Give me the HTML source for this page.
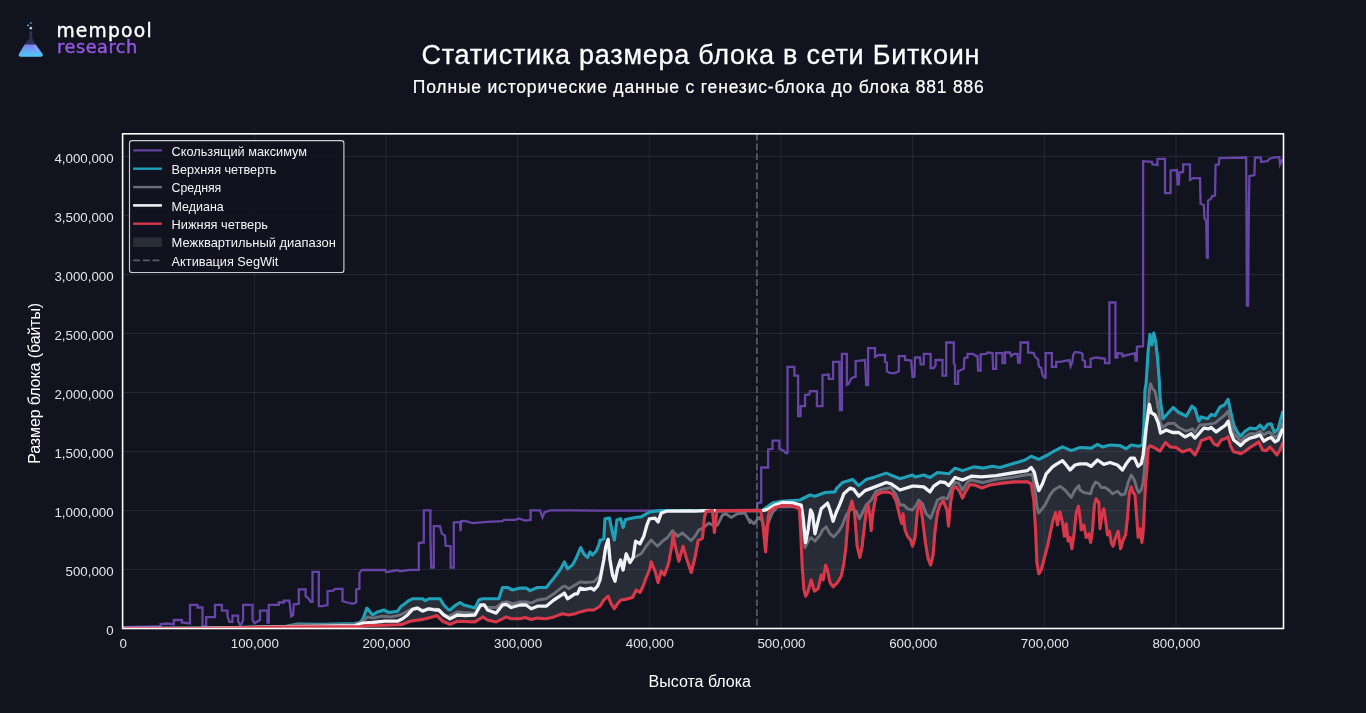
<!DOCTYPE html>
<html lang="ru"><head><meta charset="utf-8"><title>Статистика размера блока в сети Биткоин</title>
<style>
html,body{margin:0;padding:0;background:#11131f;}
body{width:1366px;height:713px;overflow:hidden;font-family:"Liberation Sans","DejaVu Sans",sans-serif;}
svg{display:block;will-change:transform;}
.t{font-family:"Liberation Sans","DejaVu Sans",sans-serif;}
.tick{font-size:13.3px;fill:#e4e4e7;}
.leg{font-size:13.3px;fill:#f4f4f5;}
</style></head><body>
<svg width="1366" height="713" viewBox="0 0 1366 713">
<defs>
<linearGradient id="liq" x1="0" y1="0" x2="0" y2="1"><stop offset="0" stop-color="#7f7ff2"/><stop offset="1" stop-color="#4ccbf7"/></linearGradient>
<clipPath id="plot"><rect x="122.6" y="133.8" width="1160.9" height="494.7"/></clipPath>
</defs>
<rect width="1366" height="713" fill="#11131f"/>
<g id="logo">
<path d="M29.3 31.2 L29.3 38.3 L24.4 44.8 L36 44.8 L32.3 38.3 L32.3 31.2 Z" fill="#343960" opacity="0.8"/>
<path d="M24.6 44.5 L35.8 44.5 L42.3 53.6 Q43.9 56.7 40.6 56.7 L20.8 56.7 Q17.6 56.7 19.2 53.6 Z" fill="url(#liq)"/>
<path d="M33.2 45 L35.2 45 L39.6 52.5 L38 52.5 Z" fill="#a6b4ff" opacity="0.55"/>
<circle cx="30.8" cy="28.2" r="1.35" fill="#a9d4f5"/>
<circle cx="30.8" cy="23" r="1.05" fill="#3f8fc9"/>
<circle cx="28" cy="25.4" r="0.8" fill="#c9c4ea"/>
<text x="56.4" y="36.8" font-family="'DejaVu Sans','Liberation Sans',sans-serif" font-size="18.7" fill="#ffffff" stroke="#ffffff" stroke-width="0.45" textLength="95.2" lengthAdjust="spacing">mempool</text>
<text x="57.1" y="52.5" font-family="'DejaVu Sans','Liberation Sans',sans-serif" font-size="17.7" fill="#9459e4" stroke="#9459e4" stroke-width="0.4" textLength="80.2" lengthAdjust="spacing">research</text>
</g>
<text class="t" x="421.5" y="64.3" font-size="27" fill="#ffffff" stroke="#ffffff" stroke-width="0.3" textLength="558" lengthAdjust="spacing">Статистика размера блока в сети Биткоин</text>
<text class="t" x="412.8" y="93" font-size="17.5" fill="#ffffff" stroke="#ffffff" stroke-width="0.2" textLength="571" lengthAdjust="spacing">Полные исторические данные с генезис-блока до блока 881 886</text>
<g stroke="#ffffff" stroke-opacity="0.085" stroke-width="1">
<line x1="254.3" y1="133.8" x2="254.3" y2="628.5"/><line x1="386.0" y1="133.8" x2="386.0" y2="628.5"/><line x1="517.6" y1="133.8" x2="517.6" y2="628.5"/><line x1="649.3" y1="133.8" x2="649.3" y2="628.5"/><line x1="781.0" y1="133.8" x2="781.0" y2="628.5"/><line x1="912.7" y1="133.8" x2="912.7" y2="628.5"/><line x1="1044.4" y1="133.8" x2="1044.4" y2="628.5"/><line x1="1176.0" y1="133.8" x2="1176.0" y2="628.5"/><line x1="122.6" y1="569.5" x2="1283.5" y2="569.5"/><line x1="122.6" y1="510.5" x2="1283.5" y2="510.5"/><line x1="122.6" y1="451.5" x2="1283.5" y2="451.5"/><line x1="122.6" y1="392.5" x2="1283.5" y2="392.5"/><line x1="122.6" y1="333.5" x2="1283.5" y2="333.5"/><line x1="122.6" y1="274.5" x2="1283.5" y2="274.5"/><line x1="122.6" y1="215.5" x2="1283.5" y2="215.5"/><line x1="122.6" y1="156.5" x2="1283.5" y2="156.5"/></g>
<g clip-path="url(#plot)" fill="none" stroke-linejoin="round" stroke-linecap="butt">
<path d="M122.6 628.5 L200.0 628.2 L285.0 626.5 L297.5 624.0 L322.5 624.4 L355.0 623.5 L360.0 622.5 L363.1 618.8 L366.9 608.1 L372.5 615.0 L377.5 611.9 L383.8 610.0 L388.8 612.5 L397.5 611.2 L401.2 606.2 L403.8 604.4 L408.8 600.6 L412.5 598.8 L422.5 598.8 L425.0 600.6 L428.8 598.8 L440.0 598.8 L443.8 605.0 L448.8 610.0 L450.0 610.0 L455.0 605.6 L460.0 602.5 L463.8 605.0 L468.8 606.2 L475.0 608.1 L478.8 600.0 L482.5 598.8 L498.8 598.8 L502.5 587.5 L507.5 587.5 L512.5 590.0 L520.0 588.1 L526.2 588.1 L530.0 590.6 L537.5 587.5 L546.2 587.5 L553.8 578.1 L560.0 570.0 L564.4 561.9 L567.5 568.8 L572.5 565.0 L576.2 558.1 L580.6 547.5 L583.8 553.8 L587.5 557.5 L590.0 551.9 L592.5 555.0 L596.2 551.2 L598.8 545.0 L600.0 540.0 L600.0 540.6 L603.8 538.8 L605.0 518.8 L609.4 518.1 L611.9 530.0 L614.4 540.0 L616.9 520.0 L620.6 518.8 L623.1 527.5 L625.6 519.4 L635.0 517.5 L641.2 516.9 L646.2 513.8 L650.0 511.9 L660.0 510.6 L762.5 510.6 L762.5 510.4 L766.2 507.5 L772.5 503.1 L781.2 501.2 L800.0 500.0 L810.0 495.0 L815.0 496.2 L825.0 492.5 L835.0 491.9 L836.2 488.9 L842.5 482.5 L852.5 479.4 L858.8 485.6 L866.2 479.4 L875.0 476.9 L886.2 473.1 L893.8 476.2 L900.0 478.8 L912.5 475.0 L915.0 476.9 L923.8 475.0 L930.0 477.5 L937.5 472.5 L948.8 473.8 L955.0 468.1 L962.5 470.6 L973.8 466.9 L983.8 468.1 L992.5 466.2 L1000.0 467.5 L1015.0 463.1 L1025.0 460.0 L1031.2 456.2 L1038.8 459.4 L1047.5 455.0 L1055.0 450.6 L1062.5 446.9 L1071.2 450.6 L1080.0 447.5 L1091.2 448.1 L1097.5 444.4 L1102.5 446.9 L1110.0 445.0 L1120.0 445.6 L1126.2 448.8 L1131.2 445.0 L1138.8 446.2 L1142.5 445.0 L1143.8 427.5 L1145.0 390.0 L1146.2 382.5 L1148.1 351.2 L1150.0 334.4 L1151.9 345.0 L1153.8 333.1 L1155.6 341.2 L1157.5 357.5 L1159.4 382.5 L1159.6 390.0 L1160.6 402.5 L1163.1 418.8 L1167.5 413.8 L1173.1 407.5 L1178.8 412.5 L1186.2 416.2 L1191.9 406.2 L1195.0 408.8 L1198.8 421.2 L1201.2 416.9 L1207.5 418.8 L1211.2 414.4 L1215.0 415.6 L1220.0 406.9 L1224.4 405.0 L1228.1 399.4 L1230.6 411.2 L1233.8 425.0 L1237.5 432.5 L1240.6 436.2 L1245.0 431.2 L1250.0 428.1 L1256.2 428.8 L1260.0 425.0 L1263.8 429.4 L1267.5 424.4 L1271.2 423.8 L1274.4 432.5 L1278.1 428.8 L1281.2 417.5 L1282.9 411.2 L1282.9 442.5 L1280.0 450.0 L1276.9 455.0 L1273.8 451.2 L1270.0 446.9 L1266.2 450.6 L1262.5 450.0 L1258.8 441.9 L1255.0 444.4 L1250.0 447.5 L1245.0 451.2 L1240.6 453.8 L1237.5 452.5 L1233.8 451.9 L1230.6 446.2 L1228.1 436.9 L1225.0 438.8 L1221.2 440.0 L1217.5 445.6 L1213.8 443.8 L1210.0 437.5 L1206.2 438.8 L1201.2 440.6 L1198.8 447.5 L1195.0 455.0 L1190.0 449.4 L1182.5 451.9 L1176.2 447.5 L1170.0 446.9 L1165.6 442.5 L1160.0 451.2 L1155.0 448.1 L1150.0 445.6 L1148.1 448.8 L1146.9 470.0 L1146.9 470.0 L1145.6 482.5 L1144.4 507.5 L1143.1 532.5 L1141.9 542.5 L1140.0 528.8 L1138.1 537.5 L1136.9 520.0 L1135.0 495.0 L1133.1 492.5 L1131.2 486.9 L1129.4 492.5 L1127.5 517.5 L1125.6 535.0 L1123.1 540.0 L1120.6 548.8 L1118.1 531.2 L1115.6 537.5 L1113.1 546.2 L1111.2 542.5 L1109.4 531.2 L1107.5 535.0 L1105.6 520.0 L1103.8 508.8 L1101.9 515.0 L1100.0 528.8 L1098.8 502.5 L1096.2 498.8 L1094.4 505.0 L1092.5 530.0 L1090.6 542.5 L1088.8 533.8 L1086.2 537.5 L1083.8 525.0 L1081.2 530.0 L1080.6 522.5 L1078.5 506.2 L1076.2 512.5 L1074.4 531.2 L1071.9 548.8 L1070.0 537.5 L1068.1 541.2 L1066.2 523.8 L1064.4 536.2 L1062.5 522.5 L1060.0 511.9 L1057.5 525.0 L1055.6 512.5 L1053.1 520.0 L1050.6 531.2 L1047.5 546.2 L1043.8 560.0 L1041.2 570.0 L1038.8 573.8 L1036.9 562.5 L1035.6 531.2 L1033.8 500.0 L1033.8 500.0 L1033.1 496.2 L1031.2 483.8 L1027.5 481.9 L1015.0 481.9 L1002.5 483.1 L990.0 485.0 L981.9 488.1 L976.2 485.6 L970.0 484.4 L965.0 492.5 L962.5 498.1 L959.4 491.2 L956.2 486.9 L953.1 488.8 L951.9 495.0 L950.6 502.5 L948.5 526.2 L946.9 510.0 L943.1 500.6 L940.0 505.0 L937.5 512.5 L935.0 531.2 L933.1 555.0 L930.6 565.0 L928.1 558.8 L925.6 543.8 L922.5 518.8 L920.0 502.5 L917.5 510.0 L915.0 537.5 L912.5 546.2 L910.6 540.0 L907.5 536.2 L905.0 530.0 L903.1 513.8 L901.9 523.8 L900.0 517.5 L896.2 501.2 L892.5 493.8 L887.5 491.9 L881.2 492.5 L876.2 495.0 L873.1 511.2 L871.2 530.6 L870.0 517.5 L868.1 504.4 L866.2 511.2 L862.5 542.5 L862.5 545.0 L859.8 557.5 L856.9 545.0 L856.9 542.5 L854.4 511.2 L851.9 501.2 L848.8 511.2 L846.2 542.5 L846.2 545.0 L843.8 563.8 L841.2 576.2 L837.5 582.5 L833.1 586.9 L830.0 582.5 L827.5 570.0 L825.6 565.0 L823.1 580.0 L821.2 575.0 L818.1 588.8 L814.4 591.2 L811.2 580.0 L808.1 591.2 L805.6 596.2 L803.8 588.8 L802.2 566.2 L800.6 530.0 L799.4 508.8 L792.5 506.0 L782.5 505.6 L775.0 507.5 L769.4 511.2 L768.1 517.5 L765.6 551.9 L762.5 521.2 L760.6 510.4 L716.9 510.6 L714.4 532.5 L712.5 510.6 L706.2 511.2 L704.4 517.5 L702.5 538.1 L698.1 540.6 L695.0 557.5 L691.2 572.5 L686.2 557.5 L683.1 546.2 L678.8 561.2 L675.0 545.0 L673.1 533.8 L671.9 545.0 L668.8 562.5 L664.4 575.0 L661.2 571.2 L658.1 582.5 L655.0 571.2 L651.2 561.9 L649.4 570.0 L646.2 577.5 L643.1 586.2 L640.0 592.5 L636.2 590.0 L632.5 597.5 L625.0 599.4 L620.8 600.0 L617.5 603.8 L614.4 608.8 L611.2 603.8 L608.1 596.2 L603.8 600.0 L600.0 606.2 L593.8 610.0 L587.5 610.0 L580.0 611.9 L575.0 613.8 L568.8 615.0 L562.5 613.8 L553.8 616.9 L546.2 618.8 L537.5 618.1 L531.2 619.4 L525.0 617.5 L520.0 618.8 L511.2 618.8 L506.2 616.9 L502.5 618.8 L496.2 621.9 L487.5 620.0 L483.1 616.9 L480.0 618.8 L475.0 621.9 L457.5 621.2 L450.0 624.4 L442.5 621.2 L436.9 615.6 L435.0 616.2 L422.5 619.4 L410.0 621.2 L402.5 624.4 L397.5 624.8 L385.0 625.2 L366.2 625.6 L360.0 626.5 L285.0 627.0 L200.0 628.5 L122.6 628.6 Z" fill="#6c757d" fill-opacity="0.26" stroke="none"/>
<path d="M122.5 627.1 L145.0 626.6 L160.6 626.2 L160.6 624.0 L167.5 623.5 L173.8 624.5 L173.8 620.0 L181.9 620.0 L181.9 622.5 L190.0 623.5 L190.0 604.8 L197.5 604.8 L197.5 607.5 L202.5 607.5 L202.5 626.2 L206.2 626.2 L206.2 617.2 L215.0 617.2 L215.0 604.8 L221.9 604.8 L221.9 610.6 L227.5 610.6 L227.5 616.5 L229.4 621.9 L232.5 621.9 L232.5 615.6 L238.1 615.6 L238.1 621.2 L240.6 626.0 L243.1 620.0 L243.1 604.8 L252.5 604.8 L252.5 620.0 L254.4 623.1 L260.0 620.0 L260.0 610.6 L267.5 610.6 L267.5 622.5 L268.8 622.5 L268.8 604.8 L278.8 604.8 L278.8 602.5 L283.8 602.5 L283.8 600.6 L285.0 600.6 L285.0 600.6 L289.4 600.6 L291.2 616.2 L293.1 615.0 L293.8 604.4 L298.8 603.8 L298.8 589.4 L305.6 589.4 L305.6 596.2 L308.8 598.8 L310.6 601.9 L312.5 601.9 L312.5 571.9 L318.8 571.9 L318.8 606.2 L322.5 606.2 L327.5 605.0 L327.5 591.2 L333.1 590.6 L335.0 588.8 L342.5 588.8 L342.5 601.2 L347.5 602.5 L352.5 603.8 L356.2 602.5 L356.2 589.4 L359.4 588.8 L359.4 573.1 L361.9 570.0 L385.0 569.8 L386.2 572.2 L397.5 570.0 L400.0 571.2 L410.0 569.8 L418.8 569.8 L418.8 568.8 L418.8 543.1 L423.8 542.5 L423.8 510.4 L430.4 510.4 L430.4 536.2 L431.2 567.5 L433.8 567.5 L433.8 526.2 L440.0 526.2 L441.9 533.8 L445.0 535.6 L445.6 545.6 L450.6 546.2 L450.6 567.5 L453.8 567.5 L453.8 522.5 L460.0 521.9 L460.6 531.2 L461.2 521.2 L465.0 521.0 L472.5 523.1 L487.5 521.9 L502.5 521.2 L503.8 519.8 L515.0 519.8 L518.8 518.5 L525.0 520.6 L530.6 520.0 L530.6 510.4 L540.0 510.4 L542.5 517.5 L544.4 512.5 L550.0 510.4 L570.8 510.4 L600.0 510.6 L756.2 510.6 L756.9 510.4 L757.5 503.1 L761.2 502.5 L761.2 488.9 L761.2 467.5 L768.1 467.5 L768.1 449.4 L772.5 448.8 L772.5 440.6 L779.4 440.6 L779.4 448.8 L783.8 450.6 L785.6 453.1 L787.5 453.1 L787.5 366.9 L794.4 366.9 L794.4 375.6 L798.1 375.6 L798.1 416.2 L800.6 416.2 L800.6 406.2 L805.0 406.2 L805.0 395.0 L809.4 394.4 L810.0 391.2 L816.9 391.2 L816.9 406.2 L822.5 406.2 L822.5 375.0 L828.8 374.4 L828.8 378.8 L833.1 378.8 L833.1 361.9 L839.4 361.9 L840.0 410.0 L841.9 410.0 L841.9 353.8 L846.9 353.8 L846.9 385.0 L848.8 383.8 L850.6 379.4 L852.5 377.5 L855.6 376.9 L855.6 361.2 L860.0 360.6 L865.0 360.0 L866.2 385.0 L868.1 385.0 L868.1 348.1 L875.0 348.1 L875.0 356.9 L878.8 355.0 L885.0 355.0 L885.0 361.9 L886.9 362.5 L886.9 371.2 L890.0 373.1 L895.0 373.1 L898.8 371.2 L898.8 356.2 L905.0 356.2 L905.0 360.0 L911.2 360.6 L912.5 376.9 L914.4 376.9 L915.0 357.5 L920.0 357.5 L920.6 364.4 L923.8 364.4 L923.8 353.8 L930.6 353.8 L930.6 368.1 L933.8 368.1 L935.6 365.0 L935.6 360.0 L942.5 360.0 L942.5 375.6 L946.2 375.6 L946.2 342.5 L953.8 342.5 L953.8 363.8 L955.0 365.0 L955.0 383.8 L958.1 383.8 L958.1 371.2 L963.8 368.8 L964.4 358.1 L967.5 357.5 L967.5 353.8 L973.1 353.8 L975.6 355.6 L977.5 356.2 L978.1 370.6 L980.6 370.6 L980.6 354.4 L986.2 353.8 L987.5 352.5 L992.5 353.1 L993.1 368.8 L996.2 368.8 L996.2 353.1 L1002.5 353.1 L1002.5 363.1 L1005.0 363.1 L1005.0 352.5 L1010.0 352.5 L1011.2 356.2 L1013.8 353.8 L1017.5 353.8 L1018.1 362.5 L1020.0 362.5 L1020.6 342.5 L1028.1 342.5 L1028.1 352.5 L1033.8 353.1 L1035.0 356.9 L1038.1 359.4 L1038.8 366.2 L1041.2 368.1 L1042.5 375.0 L1044.4 377.5 L1045.6 377.5 L1045.6 353.1 L1051.9 353.1 L1051.9 366.9 L1056.2 366.9 L1056.2 361.9 L1060.0 361.9 L1069.4 360.0 L1070.6 366.2 L1072.5 361.2 L1073.1 355.0 L1075.0 351.9 L1080.0 352.5 L1082.5 353.8 L1082.5 360.0 L1085.0 361.2 L1085.0 366.9 L1090.6 366.9 L1090.6 358.8 L1096.2 357.5 L1105.0 358.8 L1105.0 363.1 L1109.4 363.1 L1109.4 302.5 L1115.4 302.5 L1115.4 357.5 L1117.5 357.5 L1117.5 353.1 L1122.5 353.8 L1122.5 356.2 L1135.0 353.1 L1135.6 360.6 L1136.9 360.6 L1136.9 346.9 L1143.1 346.2 L1143.1 161.2 L1151.9 161.9 L1152.5 164.4 L1157.5 165.0 L1157.5 158.8 L1165.0 158.8 L1165.0 193.1 L1170.6 193.1 L1170.6 170.6 L1176.9 170.0 L1177.5 184.4 L1178.8 184.4 L1179.4 172.5 L1183.1 171.9 L1183.1 164.4 L1190.0 164.4 L1190.0 180.0 L1193.1 178.1 L1200.0 178.1 L1200.6 203.8 L1203.8 205.0 L1204.4 218.1 L1206.2 221.2 L1206.9 257.5 L1207.8 257.5 L1207.8 210.0 L1208.1 200.6 L1211.2 198.8 L1211.9 196.2 L1215.0 195.6 L1215.6 165.0 L1218.8 164.4 L1219.4 158.1 L1246.2 157.5 L1246.9 305.6 L1248.1 305.6 L1248.8 212.5 L1249.4 176.2 L1254.4 175.0 L1255.0 157.5 L1260.6 157.5 L1261.2 161.9 L1267.5 161.2 L1269.4 158.8 L1273.8 157.5 L1279.4 157.2 L1280.0 164.4 L1281.2 161.9 L1283.1 158.8" stroke="#6745a6" stroke-width="2.3" stroke-linejoin="miter"/>
<path d="M122.6 628.5 L200.0 628.2 L285.0 626.5 L297.5 624.0 L322.5 624.4 L355.0 623.5 L360.0 622.5 L363.1 618.8 L366.9 608.1 L372.5 615.0 L377.5 611.9 L383.8 610.0 L388.8 612.5 L397.5 611.2 L401.2 606.2 L403.8 604.4 L408.8 600.6 L412.5 598.8 L422.5 598.8 L425.0 600.6 L428.8 598.8 L440.0 598.8 L443.8 605.0 L448.8 610.0 L450.0 610.0 L455.0 605.6 L460.0 602.5 L463.8 605.0 L468.8 606.2 L475.0 608.1 L478.8 600.0 L482.5 598.8 L498.8 598.8 L502.5 587.5 L507.5 587.5 L512.5 590.0 L520.0 588.1 L526.2 588.1 L530.0 590.6 L537.5 587.5 L546.2 587.5 L553.8 578.1 L560.0 570.0 L564.4 561.9 L567.5 568.8 L572.5 565.0 L576.2 558.1 L580.6 547.5 L583.8 553.8 L587.5 557.5 L590.0 551.9 L592.5 555.0 L596.2 551.2 L598.8 545.0 L600.0 540.0 L600.0 540.6 L603.8 538.8 L605.0 518.8 L609.4 518.1 L611.9 530.0 L614.4 540.0 L616.9 520.0 L620.6 518.8 L623.1 527.5 L625.6 519.4 L635.0 517.5 L641.2 516.9 L646.2 513.8 L650.0 511.9 L660.0 510.6 L762.5 510.6 L762.5 510.4 L766.2 507.5 L772.5 503.1 L781.2 501.2 L800.0 500.0 L810.0 495.0 L815.0 496.2 L825.0 492.5 L835.0 491.9 L836.2 488.9 L842.5 482.5 L852.5 479.4 L858.8 485.6 L866.2 479.4 L875.0 476.9 L886.2 473.1 L893.8 476.2 L900.0 478.8 L912.5 475.0 L915.0 476.9 L923.8 475.0 L930.0 477.5 L937.5 472.5 L948.8 473.8 L955.0 468.1 L962.5 470.6 L973.8 466.9 L983.8 468.1 L992.5 466.2 L1000.0 467.5 L1015.0 463.1 L1025.0 460.0 L1031.2 456.2 L1038.8 459.4 L1047.5 455.0 L1055.0 450.6 L1062.5 446.9 L1071.2 450.6 L1080.0 447.5 L1091.2 448.1 L1097.5 444.4 L1102.5 446.9 L1110.0 445.0 L1120.0 445.6 L1126.2 448.8 L1131.2 445.0 L1138.8 446.2 L1142.5 445.0 L1143.8 427.5 L1145.0 390.0 L1146.2 382.5 L1148.1 351.2 L1150.0 334.4 L1151.9 345.0 L1153.8 333.1 L1155.6 341.2 L1157.5 357.5 L1159.4 382.5 L1159.6 390.0 L1160.6 402.5 L1163.1 418.8 L1167.5 413.8 L1173.1 407.5 L1178.8 412.5 L1186.2 416.2 L1191.9 406.2 L1195.0 408.8 L1198.8 421.2 L1201.2 416.9 L1207.5 418.8 L1211.2 414.4 L1215.0 415.6 L1220.0 406.9 L1224.4 405.0 L1228.1 399.4 L1230.6 411.2 L1233.8 425.0 L1237.5 432.5 L1240.6 436.2 L1245.0 431.2 L1250.0 428.1 L1256.2 428.8 L1260.0 425.0 L1263.8 429.4 L1267.5 424.4 L1271.2 423.8 L1274.4 432.5 L1278.1 428.8 L1281.2 417.5 L1282.9 411.2" stroke="#1fa2b8" stroke-width="3.1"/>
<path d="M122.6 628.5 L200.0 628.3 L285.0 626.6 L297.5 624.8 L322.5 625.0 L355.0 624.4 L360.0 623.1 L365.0 619.4 L367.5 616.9 L372.5 618.1 L382.5 616.2 L391.2 616.9 L400.0 615.0 L405.0 612.5 L410.0 609.8 L415.0 608.1 L417.5 607.9 L422.5 610.2 L428.8 608.5 L438.8 609.5 L443.8 614.5 L450.0 617.2 L450.0 615.6 L457.5 611.9 L463.8 612.5 L475.0 613.1 L480.0 606.2 L483.8 605.0 L487.5 607.5 L496.2 607.5 L502.5 602.5 L507.5 601.9 L512.5 603.8 L520.0 601.9 L526.2 601.9 L531.2 603.1 L537.5 600.0 L546.2 598.8 L553.8 593.8 L562.5 586.9 L565.0 586.2 L568.8 588.8 L575.0 585.0 L580.0 581.9 L585.0 582.5 L593.8 581.9 L600.0 575.6 L603.8 560.0 L605.6 547.5 L608.1 540.0 L610.0 560.0 L612.5 575.0 L615.0 580.6 L617.5 568.8 L620.6 560.0 L623.1 570.0 L626.2 553.8 L630.0 562.5 L633.1 558.1 L636.2 556.2 L641.2 553.8 L646.2 546.2 L651.2 540.0 L657.5 546.2 L662.5 541.2 L667.5 537.5 L672.5 530.6 L677.5 536.2 L682.5 533.1 L687.5 537.5 L691.2 540.6 L695.0 536.2 L698.8 530.0 L703.8 527.5 L708.8 523.1 L712.5 525.0 L717.5 525.0 L722.5 515.0 L726.2 513.8 L731.2 517.5 L737.5 513.8 L745.0 513.1 L750.0 522.5 L750.0 520.0 L753.8 523.8 L758.8 517.5 L762.5 521.2 L765.0 532.5 L768.8 521.2 L772.5 512.5 L777.5 506.9 L800.0 506.9 L802.5 523.8 L805.0 547.5 L808.8 540.0 L811.2 537.5 L815.0 541.2 L820.0 535.0 L822.5 530.0 L826.2 526.9 L830.0 533.8 L833.8 536.9 L838.8 531.2 L842.5 525.0 L846.2 515.0 L851.2 508.8 L856.2 511.2 L859.4 518.8 L862.5 512.5 L866.2 505.0 L871.2 500.0 L876.2 491.2 L881.2 489.4 L891.2 487.5 L896.2 495.0 L900.0 505.0 L903.8 505.0 L907.5 508.8 L912.5 510.0 L916.2 505.0 L918.8 500.0 L922.5 503.8 L926.2 513.8 L930.6 518.1 L933.8 510.0 L937.5 500.0 L942.5 497.5 L947.5 498.8 L951.2 488.8 L955.0 482.5 L958.8 483.1 L962.5 490.0 L967.5 481.9 L971.2 480.0 L982.5 482.5 L996.2 479.4 L1015.0 476.9 L1025.0 475.0 L1032.5 474.4 L1035.0 490.0 L1036.9 506.2 L1038.8 513.1 L1045.0 505.0 L1050.0 495.0 L1053.8 490.0 L1060.0 486.2 L1065.0 490.0 L1071.2 497.5 L1075.0 490.0 L1078.8 485.6 L1080.0 490.0 L1083.8 492.5 L1090.6 493.8 L1092.5 487.5 L1095.6 481.9 L1098.8 483.8 L1101.2 487.5 L1105.0 487.5 L1108.8 490.0 L1112.5 493.8 L1117.5 491.2 L1121.2 495.0 L1125.0 493.8 L1128.1 482.5 L1131.2 475.0 L1134.4 480.0 L1136.9 488.8 L1138.8 492.5 L1141.2 490.0 L1143.1 482.5 L1144.4 470.0 L1146.2 427.5 L1148.1 407.5 L1149.4 390.0 L1150.6 383.8 L1152.5 388.8 L1155.0 391.2 L1156.9 400.0 L1157.8 407.5 L1157.8 402.5 L1160.0 421.2 L1162.5 427.5 L1167.5 423.8 L1173.8 423.1 L1178.8 427.5 L1186.2 431.2 L1192.5 428.8 L1195.0 432.5 L1200.0 425.0 L1207.5 424.4 L1215.0 423.1 L1220.0 418.8 L1225.0 415.0 L1228.1 411.2 L1230.6 421.2 L1233.8 433.8 L1237.5 437.5 L1240.6 441.2 L1245.0 436.9 L1250.0 433.8 L1256.2 433.8 L1260.0 431.2 L1263.8 435.0 L1267.5 432.5 L1270.0 432.5 L1274.4 437.5 L1278.1 435.0 L1282.9 422.5" stroke="#6b6f79" stroke-width="2.9"/>
<path d="M122.6 628.5 L200.0 628.4 L285.0 626.8 L355.0 625.6 L362.5 623.1 L372.5 622.5 L385.0 621.2 L397.5 621.2 L402.5 618.8 L407.5 615.0 L412.5 609.4 L417.5 608.1 L422.5 611.2 L428.8 608.8 L435.0 610.0 L438.8 610.0 L443.8 615.0 L450.0 618.8 L457.5 615.0 L465.0 615.6 L475.0 615.0 L480.6 605.0 L484.4 605.0 L487.5 610.0 L496.2 613.1 L502.5 605.0 L506.2 604.4 L511.2 607.5 L520.0 605.0 L526.2 605.0 L531.2 608.8 L537.5 606.2 L546.2 606.2 L553.8 600.0 L562.5 594.4 L564.4 593.1 L567.5 598.8 L575.0 593.8 L577.5 593.8 L580.0 588.1 L585.0 589.4 L591.2 588.1 L593.8 590.0 L597.5 586.2 L600.0 580.0 L603.8 560.0 L605.6 547.5 L608.1 539.4 L610.0 560.0 L612.5 575.0 L615.0 581.2 L617.5 568.8 L620.6 560.0 L623.1 570.0 L626.2 553.8 L630.0 562.5 L633.1 557.5 L635.6 541.2 L640.0 543.8 L643.8 536.2 L646.9 525.0 L649.4 518.8 L655.0 518.1 L658.1 521.9 L661.2 513.1 L666.2 511.2 L690.0 511.0 L695.0 511.2 L703.8 510.6 L763.8 510.4 L767.5 509.4 L775.0 505.0 L782.5 502.5 L792.5 502.8 L801.2 505.0 L803.1 517.5 L805.6 542.5 L808.1 530.0 L810.6 510.0 L812.5 513.8 L815.0 533.8 L818.1 521.2 L821.2 508.8 L827.5 503.1 L830.0 510.0 L833.1 521.2 L836.2 512.5 L840.0 503.8 L843.8 493.8 L850.0 488.1 L853.8 489.4 L858.8 496.2 L865.0 490.6 L875.0 486.9 L886.2 482.5 L891.2 483.8 L900.0 490.0 L912.5 486.2 L915.0 486.2 L923.8 486.9 L930.0 491.9 L933.8 486.2 L940.0 481.9 L945.0 482.5 L948.8 485.6 L955.0 477.5 L962.5 480.0 L971.2 476.2 L981.2 476.9 L996.2 475.6 L1015.0 472.5 L1027.5 470.6 L1031.2 467.5 L1034.4 472.5 L1036.9 483.8 L1038.8 490.6 L1042.5 483.8 L1046.2 473.8 L1052.5 466.9 L1056.2 464.4 L1062.5 460.6 L1066.2 465.0 L1070.0 470.0 L1075.0 465.0 L1080.0 463.8 L1086.2 463.8 L1091.2 466.2 L1097.5 460.0 L1103.8 464.4 L1110.0 462.5 L1117.5 465.0 L1122.5 470.0 L1126.2 463.8 L1130.6 458.1 L1134.4 458.1 L1138.1 466.2 L1141.2 463.8 L1143.1 455.0 L1146.2 427.5 L1149.4 404.4 L1151.2 412.5 L1155.0 415.0 L1158.1 422.5 L1160.6 433.1 L1166.2 430.0 L1172.5 432.5 L1178.8 432.5 L1185.0 436.9 L1191.2 433.8 L1195.0 438.1 L1200.0 432.5 L1203.8 428.1 L1208.8 428.8 L1211.2 427.5 L1216.2 431.9 L1221.2 428.1 L1225.0 425.6 L1228.1 421.2 L1230.6 432.5 L1233.8 440.0 L1237.5 443.1 L1240.6 445.6 L1245.0 441.2 L1250.0 438.1 L1255.0 436.9 L1260.0 435.0 L1263.8 441.2 L1267.5 438.8 L1271.2 437.5 L1275.0 441.9 L1278.1 440.0 L1281.2 432.5 L1282.9 428.8" stroke="#f1f2f5" stroke-width="3.3"/>
<path d="M122.6 628.6 L200.0 628.5 L285.0 627.0 L360.0 626.5 L366.2 625.6 L385.0 625.2 L397.5 624.8 L402.5 624.4 L410.0 621.2 L422.5 619.4 L435.0 616.2 L436.9 615.6 L442.5 621.2 L450.0 624.4 L457.5 621.2 L475.0 621.9 L480.0 618.8 L483.1 616.9 L487.5 620.0 L496.2 621.9 L502.5 618.8 L506.2 616.9 L511.2 618.8 L520.0 618.8 L525.0 617.5 L531.2 619.4 L537.5 618.1 L546.2 618.8 L553.8 616.9 L562.5 613.8 L568.8 615.0 L575.0 613.8 L580.0 611.9 L587.5 610.0 L593.8 610.0 L600.0 606.2 L603.8 600.0 L608.1 596.2 L611.2 603.8 L614.4 608.8 L617.5 603.8 L620.8 600.0 L625.0 599.4 L632.5 597.5 L636.2 590.0 L640.0 592.5 L643.1 586.2 L646.2 577.5 L649.4 570.0 L651.2 561.9 L655.0 571.2 L658.1 582.5 L661.2 571.2 L664.4 575.0 L668.8 562.5 L671.9 545.0 L673.1 533.8 L675.0 545.0 L678.8 561.2 L683.1 546.2 L686.2 557.5 L691.2 572.5 L695.0 557.5 L698.1 540.6 L702.5 538.1 L704.4 517.5 L706.2 511.2 L712.5 510.6 L714.4 532.5 L716.9 510.6 L760.6 510.4 L762.5 521.2 L765.6 551.9 L768.1 517.5 L769.4 511.2 L775.0 507.5 L782.5 505.6 L792.5 506.0 L799.4 508.8 L800.6 530.0 L802.2 566.2 L803.8 588.8 L805.6 596.2 L808.1 591.2 L811.2 580.0 L814.4 591.2 L818.1 588.8 L821.2 575.0 L823.1 580.0 L825.6 565.0 L827.5 570.0 L830.0 582.5 L833.1 586.9 L837.5 582.5 L841.2 576.2 L843.8 563.8 L846.2 545.0 L846.2 542.5 L848.8 511.2 L851.9 501.2 L854.4 511.2 L856.9 542.5 L856.9 545.0 L859.8 557.5 L862.5 545.0 L862.5 542.5 L866.2 511.2 L868.1 504.4 L870.0 517.5 L871.2 530.6 L873.1 511.2 L876.2 495.0 L881.2 492.5 L887.5 491.9 L892.5 493.8 L896.2 501.2 L900.0 517.5 L901.9 523.8 L903.1 513.8 L905.0 530.0 L907.5 536.2 L910.6 540.0 L912.5 546.2 L915.0 537.5 L917.5 510.0 L920.0 502.5 L922.5 518.8 L925.6 543.8 L928.1 558.8 L930.6 565.0 L933.1 555.0 L935.0 531.2 L937.5 512.5 L940.0 505.0 L943.1 500.6 L946.9 510.0 L948.5 526.2 L950.6 502.5 L951.9 495.0 L953.1 488.8 L956.2 486.9 L959.4 491.2 L962.5 498.1 L965.0 492.5 L970.0 484.4 L976.2 485.6 L981.9 488.1 L990.0 485.0 L1002.5 483.1 L1015.0 481.9 L1027.5 481.9 L1031.2 483.8 L1033.1 496.2 L1033.8 500.0 L1033.8 500.0 L1035.6 531.2 L1036.9 562.5 L1038.8 573.8 L1041.2 570.0 L1043.8 560.0 L1047.5 546.2 L1050.6 531.2 L1053.1 520.0 L1055.6 512.5 L1057.5 525.0 L1060.0 511.9 L1062.5 522.5 L1064.4 536.2 L1066.2 523.8 L1068.1 541.2 L1070.0 537.5 L1071.9 548.8 L1074.4 531.2 L1076.2 512.5 L1078.5 506.2 L1080.6 522.5 L1081.2 530.0 L1083.8 525.0 L1086.2 537.5 L1088.8 533.8 L1090.6 542.5 L1092.5 530.0 L1094.4 505.0 L1096.2 498.8 L1098.8 502.5 L1100.0 528.8 L1101.9 515.0 L1103.8 508.8 L1105.6 520.0 L1107.5 535.0 L1109.4 531.2 L1111.2 542.5 L1113.1 546.2 L1115.6 537.5 L1118.1 531.2 L1120.6 548.8 L1123.1 540.0 L1125.6 535.0 L1127.5 517.5 L1129.4 492.5 L1131.2 486.9 L1133.1 492.5 L1135.0 495.0 L1136.9 520.0 L1138.1 537.5 L1140.0 528.8 L1141.9 542.5 L1143.1 532.5 L1144.4 507.5 L1145.6 482.5 L1146.9 470.0 L1146.9 470.0 L1148.1 448.8 L1150.0 445.6 L1155.0 448.1 L1160.0 451.2 L1165.6 442.5 L1170.0 446.9 L1176.2 447.5 L1182.5 451.9 L1190.0 449.4 L1195.0 455.0 L1198.8 447.5 L1201.2 440.6 L1206.2 438.8 L1210.0 437.5 L1213.8 443.8 L1217.5 445.6 L1221.2 440.0 L1225.0 438.8 L1228.1 436.9 L1230.6 446.2 L1233.8 451.9 L1237.5 452.5 L1240.6 453.8 L1245.0 451.2 L1250.0 447.5 L1255.0 444.4 L1258.8 441.9 L1262.5 450.0 L1266.2 450.6 L1270.0 446.9 L1273.8 451.2 L1276.9 455.0 L1280.0 450.0 L1282.9 442.5" stroke="#d83849" stroke-width="3.1"/>
<line x1="756.9" y1="133.8" x2="756.9" y2="628.5" stroke="#727782" stroke-opacity="0.75" stroke-width="1.65" stroke-dasharray="6.9 2.8"/>
</g>
<rect x="122.6" y="133.8" width="1160.9" height="494.7" fill="none" stroke="#ffffff" stroke-width="1.6"/>
<g class="t tick">
<text x="113.6" y="634.8" text-anchor="end">0</text><text x="113.6" y="575.8" text-anchor="end">500,000</text><text x="113.6" y="516.8" text-anchor="end">1,000,000</text><text x="113.6" y="457.8" text-anchor="end">1,500,000</text><text x="113.6" y="398.8" text-anchor="end">2,000,000</text><text x="113.6" y="339.8" text-anchor="end">2,500,000</text><text x="113.6" y="280.8" text-anchor="end">3,000,000</text><text x="113.6" y="221.8" text-anchor="end">3,500,000</text><text x="113.6" y="162.8" text-anchor="end">4,000,000</text><text x="123.1" y="648.1" text-anchor="middle">0</text><text x="254.8" y="648.1" text-anchor="middle">100,000</text><text x="386.5" y="648.1" text-anchor="middle">200,000</text><text x="518.1" y="648.1" text-anchor="middle">300,000</text><text x="649.8" y="648.1" text-anchor="middle">400,000</text><text x="781.5" y="648.1" text-anchor="middle">500,000</text><text x="913.2" y="648.1" text-anchor="middle">600,000</text><text x="1044.9" y="648.1" text-anchor="middle">700,000</text><text x="1176.5" y="648.1" text-anchor="middle">800,000</text></g>
<text class="t" x="648.6" y="687" font-size="16" fill="#ffffff" textLength="102.4" lengthAdjust="spacing">Высота блока</text>
<text class="t" transform="translate(39.6 463.8) rotate(-90)" font-size="16" fill="#ffffff" textLength="161" lengthAdjust="spacing">Размер блока (байты)</text>
<rect x="129.5" y="140.6" width="214.4" height="131.9" rx="2.6" fill="#11131f" fill-opacity="0.9" stroke="#cbcdd3" stroke-width="1.15"/>
<line x1="133.1" y1="150.4" x2="161.9" y2="150.4" stroke="#6745a6" stroke-width="2.1"/><line x1="133.1" y1="168.7" x2="161.9" y2="168.7" stroke="#1fa2b8" stroke-width="2.4"/><line x1="133.1" y1="187.1" x2="161.9" y2="187.1" stroke="#6b6f79" stroke-width="2.4"/><line x1="133.1" y1="205.4" x2="161.9" y2="205.4" stroke="#f1f2f5" stroke-width="2.6"/><line x1="133.1" y1="223.7" x2="161.9" y2="223.7" stroke="#d83849" stroke-width="2.4"/><rect x="133.1" y="237.4" width="28.8" height="9.6" fill="#6c757d" fill-opacity="0.27"/><line x1="133.1" y1="260.4" x2="161.9" y2="260.4" stroke="#727782" stroke-opacity="0.75" stroke-width="1.65" stroke-dasharray="6.9 2.8"/>
<g class="t leg">
<text x="171.6" y="155.5" textLength="135.4" lengthAdjust="spacingAndGlyphs">Скользящий максимум</text><text x="171.6" y="173.8" textLength="104.7" lengthAdjust="spacingAndGlyphs">Верхняя четверть</text><text x="171.6" y="192.2" textLength="49.7" lengthAdjust="spacingAndGlyphs">Средняя</text><text x="171.6" y="210.5" textLength="52.2" lengthAdjust="spacingAndGlyphs">Медиана</text><text x="171.6" y="228.8" textLength="96.4" lengthAdjust="spacingAndGlyphs">Нижняя четверь</text><text x="171.6" y="247.2" textLength="164.2" lengthAdjust="spacingAndGlyphs">Межквартильный диапазон</text><text x="171.6" y="265.5" textLength="106.8" lengthAdjust="spacingAndGlyphs">Активация SegWit</text></g>
</svg>
</body></html>
